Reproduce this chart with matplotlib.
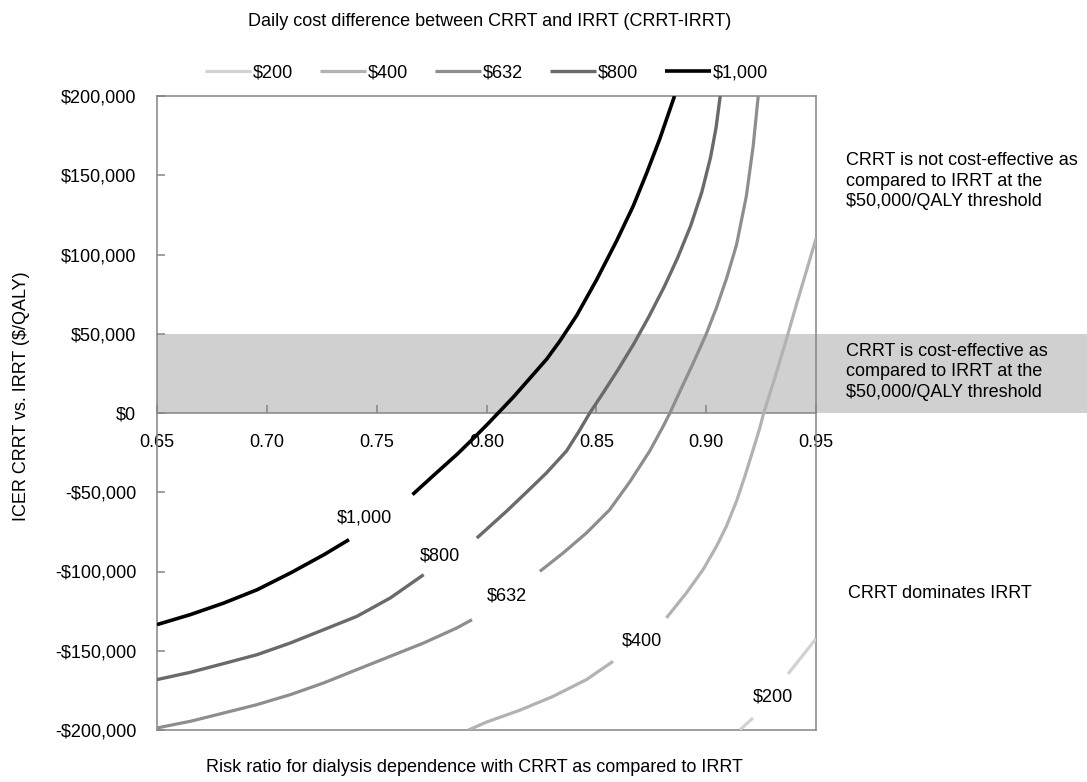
import numpy as np
import matplotlib
matplotlib.use('Agg')
import matplotlib.pyplot as plt
from matplotlib.ticker import FuncFormatter

plt.rcParams['font.family'] = ['Liberation Sans', 'DejaVu Sans']
plt.rcParams['font.size'] = 13

nan = np.nan

# curves (risk ratio, ICER $/QALY); nan = gap under the label
rr_1000 = [0.650, 0.6652, 0.6804, 0.6956, 0.7108, 0.7260, 0.7374, nan,
           0.7663, 0.7762, 0.7868, 0.7944, 0.8005, 0.8053, 0.8122, 0.8198, 0.8274,
           0.8334, 0.8410, 0.8501, 0.8592, 0.8668, 0.8728, 0.8789, 0.8856]
icer_1000 = [-133500, -127200, -119900, -111500, -100900, -89400, -79900, nan,
             -51500, -39000, -25800, -15500, -7000, 0, 10000, 22000, 34000,
             45400, 61400, 84000, 108500, 130600, 151000, 173000, 200000]

rr_800 = [0.650, 0.6652, 0.6803, 0.6955, 0.7107, 0.7259, 0.741, 0.7562, 0.7714, nan,
          0.7956, 0.8091, 0.8182, 0.8273, 0.8364, 0.842, 0.847, 0.853, 0.860, 0.867,
          0.874, 0.881, 0.887, 0.893, 0.898, 0.902, 0.9045, 0.9064]
icer_800 = [-168200, -163600, -158100, -152500, -145100, -136700, -128300, -116700, -102000, nan,
            -78900, -62000, -50000, -37800, -24000, -11800, 0, 12500, 27600, 43500,
            61000, 79900, 97900, 118300, 139300, 161300, 180000, 200000]

rr_632 = [0.650, 0.6652, 0.6803, 0.6955, 0.7107, 0.7259, 0.741, 0.7562, 0.7714, 0.7865, 0.7934, nan,
          0.8243, 0.8349, 0.8455, 0.8561, 0.8652, 0.8743, 0.8804, 0.8835, 0.888, 0.8941,
          0.9001, 0.9047, 0.9093, 0.9138, 0.9183, 0.9214, 0.9237]
icer_632 = [-198700, -194500, -189300, -184000, -177700, -170300, -161900, -153500, -145100, -135600, -130400, nan,
            -99900, -88300, -75700, -61000, -43500, -24000, -8500, 0, 13500, 31500,
            50000, 66500, 85000, 106000, 136900, 168400, 200000]

rr_400 = [0.7918, 0.800, 0.8152, 0.8303, 0.8455, 0.8576, nan,
          0.8819, 0.891, 0.8986, 0.9047, 0.9092, 0.9138, 0.9176, 0.9214, 0.9244, 0.9262,
          0.931, 0.936, 0.941, 0.9455, 0.950]
icer_400 = [-200000, -195000, -187500, -178800, -168200, -156700, nan,
            -129300, -113500, -98800, -84100, -71500, -55700, -40000, -23100, -9500, 0,
            21000, 44000, 68000, 89000, 110000]

rr_200 = [0.9153, 0.9213, nan, 0.9373, 0.950]
icer_200 = [-200000, -192400, nan, -164600, -142400]

series = ['$200', '$400', '$632', '$800', '$1,000']
colors = ['#d2d2d2', '#b2b2b2', '#8e8e8e', '#6a6a6a', '#000000']
widths = [2.3, 2.3, 2.3, 2.4, 2.6]
curves = [(rr_200, icer_200), (rr_400, icer_400), (rr_632, icer_632),
          (rr_800, icer_800), (rr_1000, icer_1000)]

# label positions on the curves
label_rr = [0.9303, 0.8707, 0.8093, 0.779, 0.7446]
label_icer = [-179200, -144000, -115700, -90400, -66200]

spine_col = '#858585'

fig = plt.figure(figsize=(10.87, 7.82), dpi=100)
ax = fig.add_axes([157 / 1087, 1 - 730 / 782, 659 / 1087, 634 / 782])

ax.set_xlim(0.65, 0.95)
ax.set_ylim(-200000, 200000)

# cost-effective band, runs out to the right edge of the figure
ax.axhspan(0, 50000, xmin=0, xmax=(1087 - 157) / 659, color='#d0d0d0', lw=0,
           zorder=0.5, clip_on=False)

for (x, y), name, c, w in zip(curves, series, colors, widths):
    ax.plot(x, y, color=c, lw=w, label=name, zorder=3,
            solid_capstyle='butt', solid_joinstyle='round')

for name, lx, ly in zip(series, label_rr, label_icer):
    ax.text(lx, ly, name, ha='center', va='center', fontsize=13, zorder=4)

# axes styling
ax.spines['bottom'].set_position(('data', 0))
for s in ax.spines.values():
    s.set_color(spine_col)
    s.set_linewidth(1.1)
ax.axhline(-200000, color=spine_col, lw=1.1, clip_on=False, zorder=2.5)

ax.set_xticks(np.arange(0.65, 0.951, 0.05))
ax.xaxis.set_major_formatter(FuncFormatter(lambda v, p: f'{v:.2f}'))
ax.set_yticks(np.arange(-200000, 200001, 50000))
ax.yaxis.set_major_formatter(FuncFormatter(
    lambda v, p: ('-' if v < 0 else '') + f'${abs(v):,.0f}'))
ax.tick_params(axis='x', direction='in', length=6, width=1.1, color=spine_col,
               pad=15, labelsize=13)
ax.tick_params(axis='y', direction='in', length=6, width=1.1, color=spine_col,
               pad=15, labelsize=13)

# legend on top
ax.legend(loc='center', bbox_to_anchor=(0.5, (730 - 73) / 634), ncol=5,
          frameon=False, fontsize=13, handlelength=2.55, handletextpad=0.1,
          columnspacing=1.5)
fig.text(490 / 1087, 1 - 22 / 782,
         'Daily cost difference between CRRT and IRRT (CRRT-IRRT)',
         ha='center', va='center', fontsize=13)

# axis titles
fig.text(474 / 1087, 1 - 767 / 782,
         'Risk ratio for dialysis dependence with CRRT as compared to IRRT',
         ha='center', va='center', fontsize=13)
fig.text(22 / 1087, 1 - 396 / 782, 'ICER CRRT vs. IRRT ($/QALY)',
         ha='center', va='center', rotation=90, fontsize=13)

# region notes on the right
fig.text(846 / 1087, 1 - 181 / 782,
         'CRRT is not cost-effective as\ncompared to IRRT at the\n$50,000/QALY threshold',
         ha='left', va='center', fontsize=13, linespacing=1.3)
fig.text(846 / 1087, 1 - 372 / 782,
         'CRRT is cost-effective as\ncompared to IRRT at the\n$50,000/QALY threshold',
         ha='left', va='center', fontsize=13, linespacing=1.3)
fig.text(848 / 1087, 1 - 593 / 782, 'CRRT dominates IRRT',
         ha='left', va='center', fontsize=13)

fig.savefig('out.png', dpi=100)
